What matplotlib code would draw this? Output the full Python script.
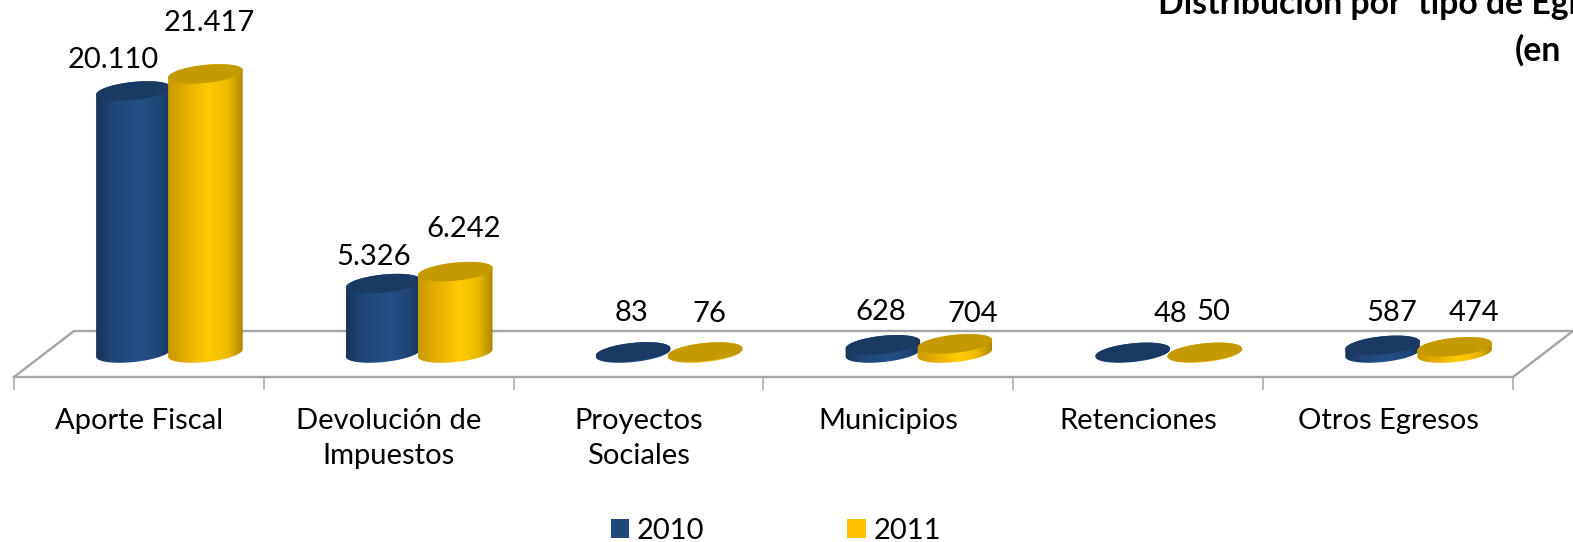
import numpy as np
import matplotlib
matplotlib.use("Agg")
import matplotlib.pyplot as plt
from matplotlib.patches import Polygon, Patch
from matplotlib.colors import LinearSegmentedColormap

plt.rcParams['font.family'] = ['Lato', 'DejaVu Sans']

categories = ["Aporte Fiscal", "Devolución de\nImpuestos", "Proyectos\nSociales",
              "Municipios", "Retenciones", "Otros Egresos"]
series_names = ["2010", "2011"]
values_2010 = [20110, 5326, 83, 628, 48, 587]
values_2011 = [21417, 6242, 76, 704, 50, 474]
labels_2010 = ["20.110", "5.326", "83", "628", "48", "587"]
labels_2011 = ["21.417", "6.242", "76", "704", "50", "474"]

# label offsets from the top-centre of each cylinder, pixels
offs_2010 = [(-20, 31), (-10, 27), (-2, 39), (-2, 33), (38, 38), (9, 32)]
offs_2011 = [(4, 51), (8, 43), (4, 38), (18, 30), (9, 40), (19, 34)]

W, H = 1573, 542
LEFT, RIGHT, FRONT = 14, 1513, 377
PX_PER_VAL = 0.01303
BASE_PX = 353
CAT_PX = (RIGHT - LEFT) / 6
FS = 21

fig = plt.figure(figsize=(W / 100, H / 100), dpi=100, facecolor="white")
ax = fig.add_axes([LEFT / W, 1 - FRONT / H, (RIGHT - LEFT) / W, FRONT / H])
ax.set_xlim(-0.5, 5.5)
ax.set_ylim(-(FRONT - BASE_PX) / PX_PER_VAL, BASE_PX / PX_PER_VAL)
ax.set_facecolor("none")
for s in ("top", "left", "right"):
    ax.spines[s].set_visible(False)
ax.spines["bottom"].set_color("#a6a6a6")
ax.spines["bottom"].set_linewidth(1.7)
ax.yaxis.set_visible(False)

ax.set_xticks(range(6))
ax.set_xticklabels(categories, fontsize=FS, color="black", linespacing=1.45)
ax.tick_params(axis="x", which="major", length=0, pad=22)
ax.set_xticks(np.arange(-0.5, 6, 1), minor=True)
ax.tick_params(axis="x", which="minor", length=9.5, width=1.1, color="#a6a6a6")

# floor outline
GREY = "#a6a6a6"
back_y = (BASE_PX - 331) / PX_PER_VAL
front_y = ax.get_ylim()[0]
depth = 60 / CAT_PX
ax.plot([-0.5, -0.5 + depth, 5.5 + depth, 5.5],
        [front_y, back_y, back_y, front_y],
        color=GREY, lw=1.7, clip_on=False, zorder=1, solid_joinstyle="miter")

A, B, TILT = 37.5, 9.0, np.deg2rad(6)
SHIFT = 30.5 / CAT_PX
HALF = 36 / CAT_PX


def ellipse_px(t):
    return (A * np.cos(t) * np.cos(TILT) - B * np.sin(t) * np.sin(TILT),
            A * np.cos(t) * np.sin(TILT) + B * np.sin(t) * np.cos(TILT))


def cylinder(xc, val, stops, top_col, z):
    t_front = np.linspace(np.pi, 2 * np.pi, 80)
    t_back = np.linspace(0, np.pi, 80)
    dx1, dy1 = ellipse_px(t_front)
    dx2, dy2 = ellipse_px(t_back)
    xs = np.r_[xc + dx1 / CAT_PX, xc + dx2 / CAT_PX]
    ys = np.r_[dy1 / PX_PER_VAL, val + dy2 / PX_PER_VAL]
    side = Polygon(np.c_[xs, ys], closed=True, fc="none", ec="none", zorder=z)
    ax.add_patch(side)
    cmap = LinearSegmentedColormap.from_list("c", stops)
    grad = np.linspace(0, 1, 256)[None, :]
    im = ax.imshow(grad, cmap=cmap, aspect="auto", zorder=z, interpolation="bilinear",
                   extent=(xc - A / CAT_PX, xc + A / CAT_PX,
                           -20 / PX_PER_VAL, val + 20 / PX_PER_VAL))
    im.set_clip_path(side)
    dx, dy = ellipse_px(np.linspace(0, 2 * np.pi, 160))
    ax.add_patch(Polygon(np.c_[xc + dx / CAT_PX, val + dy / PX_PER_VAL], closed=True,
                         fc=top_col, ec="none", zorder=z + 0.1))


blue = [(0, "#17345c"), (0.25, "#1f477a"), (0.6, "#255088"), (0.85, "#1f4576"), (1, "#17345c")]
gold = [(0, "#c89a00"), (0.25, "#e6ae00"), (0.55, "#ffcb00"), (0.8, "#edb900"), (1, "#ae8900")]

for i in range(6):
    x0 = i + SHIFT - HALF
    x1 = i + SHIFT + HALF
    cylinder(x0, values_2010[i], blue, "#1a3a64", 3 + i * 0.01)
    cylinder(x1, values_2011[i], gold, "#c49a00", 4 + i * 0.01)
    for x, v, t, o in ((x0, values_2010[i], labels_2010[i], offs_2010[i]),
                       (x1, values_2011[i], labels_2011[i], offs_2011[i])):
        ax.annotate(t, xy=(x, v), xytext=o, textcoords="offset pixels", ha="center",
                    va="center", fontsize=FS, color="black", zorder=6,
                    annotation_clip=False)

ax.set_xlim(-0.5, 5.5)
ax.set_ylim(-(FRONT - BASE_PX) / PX_PER_VAL, BASE_PX / PX_PER_VAL)

handles = [Patch(fc="#1f497d", ec="none", label=series_names[0]),
           Patch(fc="#ffc000", ec="none", label=series_names[1])]
fig.legend(handles=handles, ncol=2, frameon=False, fontsize=FS,
           loc="center", bbox_to_anchor=(776 / W, 1 - 531 / H),
           handlelength=0.62, handleheight=0.62, handletextpad=0.27, columnspacing=4.9,
           borderpad=0, labelcolor="black")

fig.text(1158 / W, 1 - 14 / H, "Distribución por  tipo de Egresos", fontsize=24.3,
         fontweight="bold", ha="left", va="baseline", color="black")
fig.text(1515 / W, 1 - 61 / H, "(en", fontsize=24.3,
         fontweight="bold", ha="left", va="baseline", color="black")

fig.savefig("out.png", dpi=100, facecolor="white")
